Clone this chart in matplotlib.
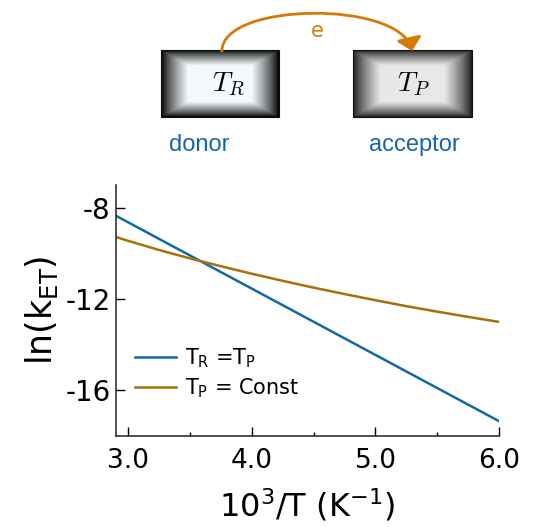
import numpy as np
import matplotlib.pyplot as plt
from matplotlib.path import Path
from matplotlib.patches import FancyArrowPatch, Rectangle
from matplotlib.colors import LinearSegmentedColormap

##############################################################################################################################
# data

x_equal = [2.9, 6.0]
y_equal = [-8.35, -17.35]

x_const = [2.9, 3.0, 3.25, 3.5, 3.75, 4.0, 4.25, 4.5, 4.75, 5.0, 5.25, 5.5, 5.75, 6.0]
y_const = [-9.28, -9.45, -9.85, -10.22, -10.56, -10.89, -11.2, -11.5, -11.78, -12.05, -12.31, -12.55, -12.78, -13.0]

x_ticks = [3.0, 4.0, 5.0, 6.0]
x_ticklabels = ['3.0', '4.0', '5.0', '6.0']
y_ticks = [-8, -12, -16]

blue = '#0f6aa3'
brown = '#a8700c'
orange = '#d67a06'
label_blue = '#1565aa'

plt.rcParams['axes.unicode_minus'] = False

##############################################################################################################################
# setup

W, H = 546, 527
fig = plt.figure(figsize=(W / 100, H / 100), dpi=100)

# diagram on top, drawn in pixel coordinates
dax = fig.add_axes([0, 0, 1, 1])
dax.set_xlim(0, W)
dax.set_ylim(H, 0)
dax.axis('off')


def frame_box(x0, x1, y0, y1, dark, light):
    n = 200
    u = np.linspace(0, 1, n)
    v = np.linspace(0, 1, n)
    U, V = np.meshgrid(u, v)
    d = np.minimum(np.minimum(U, 1 - U), np.minimum(V, 1 - V))
    img = np.clip(d / 0.23, 0, 1) ** 0.8
    cmap = LinearSegmentedColormap.from_list('g', [dark, light])
    dax.imshow(img, cmap=cmap, extent=[x0, x1, y1, y0], aspect='auto',
               interpolation='bilinear', zorder=1)
    dax.add_patch(Rectangle((x0, y0), x1 - x0, y1 - y0, fill=False,
                            edgecolor='#111111', lw=0.8, zorder=2))


frame_box(161, 279, 50, 117, '#000000', '#f4fafd')
frame_box(353, 472, 50, 117, '#1c1c1c', '#e8e8e8')

dax.text(228, 84, r'$T_R$', fontsize=20, ha='center', va='center', math_fontfamily='cm')
dax.text(413, 84, r'$T_P$', fontsize=20, ha='center', va='center', math_fontfamily='cm')

dax.text(199, 145, 'donor', fontsize=17, color=label_blue, ha='center', va='center',
         family='Liberation Sans')
dax.text(414, 145, 'acceptor', fontsize=17, color=label_blue, ha='center', va='center',
         family='Liberation Sans')

# electron transfer arrow
arc = Path([(222, 51), (222, 2), (400, 0), (412, 51)],
           [Path.MOVETO, Path.CURVE4, Path.CURVE4, Path.CURVE4])
dax.add_patch(FancyArrowPatch(path=arc, arrowstyle='-|>,head_length=0.55,head_width=0.55',
                              mutation_scale=14, color=orange, lw=2, zorder=3))
dax.text(317, 31, 'e', fontsize=15, color=orange, ha='center', va='center')

##############################################################################################################################
# plot data

ax = fig.add_axes([116 / W, 1 - 436 / H, (499 - 116) / W, (436 - 185) / H])

ax.plot(x_equal, y_equal, color=blue, lw=1.8, label=r'$\mathregular{T_R}$ =$\mathregular{T_P}$')
ax.plot(x_const, y_const, color=brown, lw=1.8, label=r'$\mathregular{T_P}$ = Const')

ax.set_xlim(2.9, 6.0)
ax.set_ylim(-18, -7)

ax.spines['top'].set_visible(False)
ax.spines['right'].set_visible(False)
for s in ['left', 'bottom']:
    ax.spines[s].set_linewidth(1.1)
    ax.spines[s].set_color('#222222')

ax.set_xticks(x_ticks)
ax.set_xticklabels(x_ticklabels)
ax.set_xticks([3.5, 4.5, 5.5], minor=True)
ax.set_yticks(y_ticks)
ax.tick_params(axis='both', which='major', direction='in', length=6.5, width=1)
ax.tick_params(axis='x', which='major', pad=9, labelsize=19)
ax.tick_params(axis='y', which='major', pad=4, labelsize=20)
ax.tick_params(axis='x', which='minor', direction='in', length=3, width=1)

# labels
ax.set_xlabel(r'$\mathregular{10^3/T\ (K^{-1})}$', fontsize=23, labelpad=9)
ax.set_ylabel(r'$\mathregular{ln(k_{ET})}$', fontsize=25, labelpad=4)

# legend
ax.legend(loc='lower left', bbox_to_anchor=(0.0, 0.07), frameon=False, fontsize=15,
          handlelength=2.0, handletextpad=0.4, labelspacing=0.3)

fig.savefig('out.png', dpi=100)
